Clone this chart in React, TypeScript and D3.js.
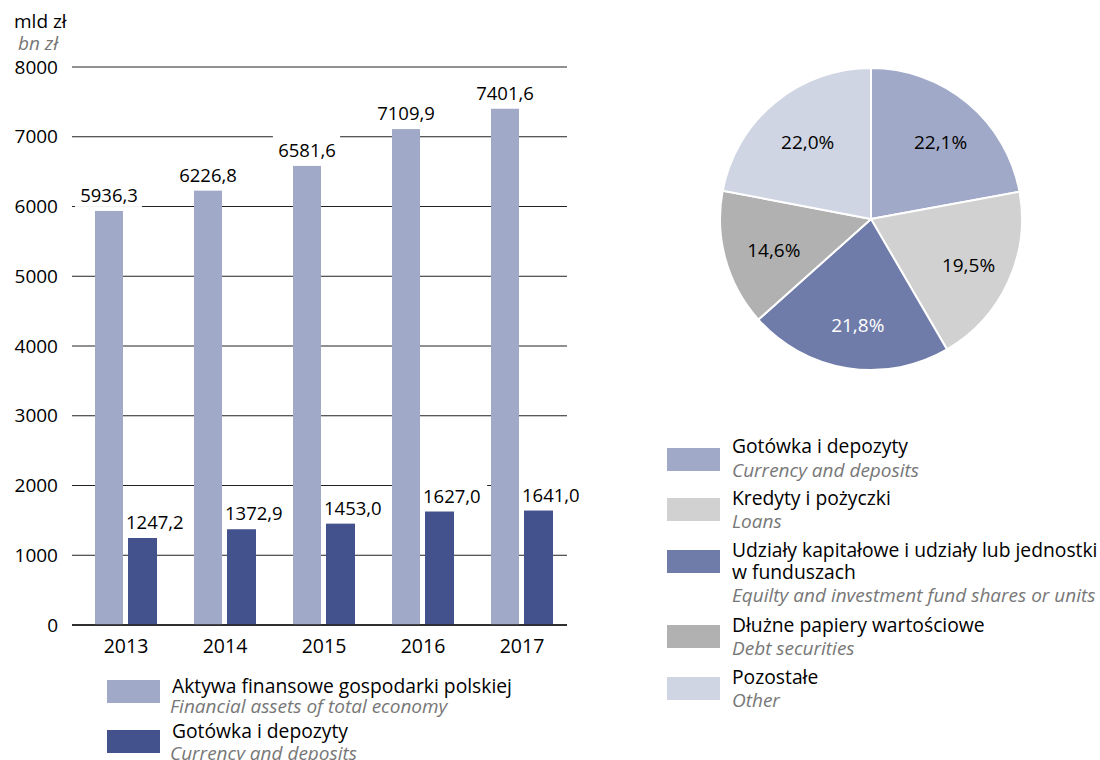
import React from "react";
import * as d3 from "d3";

const years = ["2013", "2014", "2015", "2016", "2017"];
const assets = [5936.3, 6226.8, 6581.6, 7109.9, 7401.6];
const deposits = [1247.2, 1372.9, 1453.0, 1627.0, 1641.0];
const yTicks = [0, 1000, 2000, 3000, 4000, 5000, 6000, 7000, 8000];

const pieLabelsPl = [
  "Gotówka i depozyty",
  "Kredyty i pożyczki",
  "Udziały kapitałowe i udziały lub jednostki|w funduszach",
  "Dłużne papiery wartościowe",
  "Pozostałe",
];
const pieLabelsEn = [
  "Currency and deposits",
  "Loans",
  "Equilty and investment fund shares or units",
  "Debt securities",
  "Other",
];
const pieValues = [22.1, 19.5, 21.8, 14.6, 22.0];
const pieColors = ["#a0a9c8", "#d1d1d1", "#6f7caa", "#b1b1b1", "#cfd5e3"];
const pieTextColors = ["#000", "#000", "#fff", "#000", "#000"];

const barColors = { assets: "#a0a9c8", deposits: "#43528d" };
const barLegendPl = ["Aktywa finansowe gospodarki polskiej", "Gotówka i depozyty"];
const barLegendEn = ["Financial assets of total economy", "Currency and deposits"];

const FONT = "'Open Sans', sans-serif";
const fmt = (v: number) => v.toFixed(1).replace(".", ",");

export default function App() {
  const y = d3.scaleLinear().domain([0, 8000]).range([625, 67]);
  const x = d3.scaleBand().domain(years).range([76.5, 571.5]);
  const gridX0 = 72;
  const gridX1 = 567;

  const pie = d3.pie<number>().sort(null).value((d) => d);
  const arcs = pie(pieValues);
  const R = 151;
  const arc = d3.arc<d3.PieArcDatum<number>>().innerRadius(0).outerRadius(R);
  const labelArc = d3.arc<d3.PieArcDatum<number>>().innerRadius(104).outerRadius(104);
  const cx = 871;
  const cy = 219;

  const fs = 18.5;
  const labelW = (s: string) => s.length * 0.56 * fs - 2;
  const LFS = 19.3;
  const EFS = 19;

  const legendRows = [
    { sw: 448, pl: [453], en: 477 },
    { sw: 498, pl: [505], en: 528 },
    { sw: 550, pl: [557, 579], en: 602 },
    { sw: 625, pl: [632], en: 655 },
    { sw: 677, pl: [684], en: 707 },
  ];
  const barLegendRows = [
    { sw: 680, pl: 693, en: 713 },
    { sw: 730, pl: 738, en: 760 },
  ];

  return (
    <svg
      width={1100}
      height={760}
      style={{ position: "absolute", left: 0, top: 0, background: "#fff" }}
      fontFamily={FONT}
    >
      {/* axis titles */}
      <text x={14} y={28} fontSize={19} fill="#000">mld zł</text>
      <text x={18} y={50} fontSize={19} fill="#777" fontStyle="italic">bn zł</text>

      {/* gridlines */}
      {yTicks.map((t) => (
        <g key={t}>
          <line
            x1={gridX0}
            x2={gridX1}
            y1={y(t)}
            y2={y(t)}
            stroke="#222"
            strokeWidth={t === 0 ? 1.5 : 1}
          />
          <text x={58} y={y(t) + 6.5} fontSize={19} textAnchor="end" fill="#000">
            {t}
          </text>
        </g>
      ))}

      {/* value label backgrounds */}
      {years.map((yr, i) => {
        const c = (x(yr) as number) + x.bandwidth() / 2;
        const la = fmt(assets[i]);
        const ld = fmt(deposits[i]);
        const wa = labelW(la);
        const wd = labelW(ld);
        const ba = y(assets[i]) - 9;
        const bd = y(deposits[i]) - 9;
        return (
          <g key={"bg" + yr}>
            <rect x={c - 17 - wa / 2 - 4} y={ba - 21} width={wa + 7} height={26} fill="#fff" />
            <rect x={c + 2 - 5} y={bd - 21} width={wd + 7} height={26} fill="#fff" />
          </g>
        );
      })}

      {/* bars */}
      {years.map((yr, i) => {
        const c = (x(yr) as number) + x.bandwidth() / 2;
        return (
          <g key={yr}>
            <rect
              x={c - 31}
              y={y(assets[i])}
              width={28}
              height={y(0) - y(assets[i])}
              fill={barColors.assets}
            />
            <rect
              x={c + 2}
              y={y(deposits[i])}
              width={29}
              height={y(0) - y(deposits[i])}
              fill={barColors.deposits}
            />
            <text x={c - 17} y={y(assets[i]) - 9} fontSize={fs} textAnchor="middle" fill="#000">
              {fmt(assets[i])}
            </text>
            <text x={c + 0} y={y(deposits[i]) - 9} fontSize={fs} textAnchor="start" fill="#000">
              {fmt(deposits[i])}
            </text>
            <text x={c} y={653} fontSize={19.5} textAnchor="middle" fill="#000">
              {yr}
            </text>
          </g>
        );
      })}
      <line x1={gridX0} x2={gridX1} y1={y(0)} y2={y(0)} stroke="#222" strokeWidth={1.5} />

      {/* bar legend */}
      {barLegendPl.map((t, i) => (
        <g key={t}>
          <rect
            x={107}
            y={barLegendRows[i].sw}
            width={53}
            height={23}
            fill={i === 0 ? barColors.assets : barColors.deposits}
          />
          <text x={172} y={barLegendRows[i].pl} fontSize={LFS} fill="#000">
            {t}
          </text>
          <text x={170} y={barLegendRows[i].en} fontSize={EFS} fontStyle="italic" fill="#777">
            {barLegendEn[i]}
          </text>
        </g>
      ))}

      {/* pie */}
      <g transform={`translate(${cx},${cy})`}>
        {arcs.map((a, i) => (
          <path key={i} d={arc(a) as string} fill={pieColors[i]} stroke="#fff" strokeWidth={2} />
        ))}
        {arcs.map((a, i) => {
          const [lx, ly] = labelArc.centroid(a);
          return (
            <text
              key={"l" + i}
              x={lx + 3}
              y={ly + 10}
              fontSize={19}
              textAnchor="middle"
              fill={pieTextColors[i]}
            >
              {fmt(pieValues[i])}%
            </text>
          );
        })}
      </g>

      {/* pie legend */}
      {legendRows.map((r, i) => (
        <g key={"pl" + i}>
          <rect x={667} y={r.sw} width={53} height={23} fill={pieColors[i]} />
          {pieLabelsPl[i].split("|").map((s, j) => (
            <text key={j} x={732} y={r.pl[j]} fontSize={LFS} fill="#000">
              {s}
            </text>
          ))}
          <text x={732} y={r.en} fontSize={EFS} fontStyle="italic" fill="#777">
            {pieLabelsEn[i]}
          </text>
        </g>
      ))}
    </svg>
  );
}
